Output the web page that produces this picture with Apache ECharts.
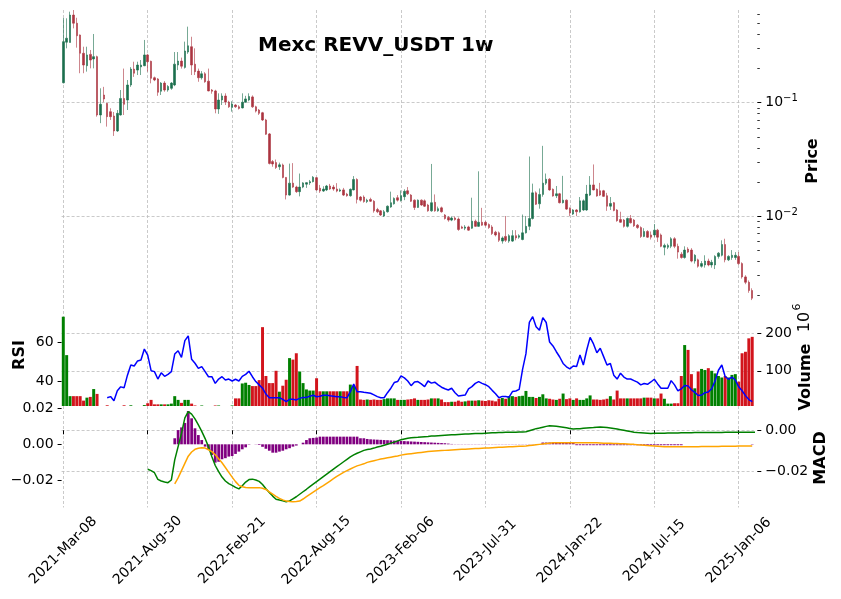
<!DOCTYPE html>
<html><head><meta charset="utf-8">
<script src="https://cdn.jsdelivr.net/npm/echarts@6/dist/echarts.min.js"></script>
<style>html,body{margin:0;padding:0;background:#fff}#c{width:841px;height:599px}</style>
</head><body><div id="c"></div>
<script>
// ---- data (weekly, from 2021-03-08) ----
const open = [.150,.342,.340,.594,.503,.396,.273,.212,.267,.243,.255,.0779,.1169,.0986,.0833,.0763,.0563,.0779,.109,.1056,.1433,.198,.194,.207,.212,.264,.232,.166,.162,.1262,.149,.1294,.134,.1433,.215,.233,.205,.28,.312,.219,.19,.166,.18,.155,.1294,.127,.088,.1056,.1146,.1014,.091,.0954,.092,.09,.101,.1056,.1125,.092,.0862,.0815,.0704,.053,.0302,.0296,.0272,.0282,.0219,.0153,.0195,.018,.0164,.018,.0191,.0196,.0201,.0218,.0176,.0166,.017,.0184,.018,.0173,.0166,.017,.0156,.0151,.017,.021,.0147,.0147,.0134,.014,.0135,.0114,.0111,.01,.0109,.012,.0128,.0145,.0137,.0148,.0167,.0153,.0138,.0119,.0138,.0136,.0125,.0111,.0132,.0111,.0118,.0102,.0097,.0092,.0096,.0094,.008,.0078,.008,.0078,.009,.0081,.0088,.0088,.0084,.008,.0072,.0071,.006,.0066,.006,.006,.0067,.0065,.0062,.0071,.0081,.0095,.016,.0128,.0155,.0195,.0211,.0172,.0151,.0157,.0131,.0138,.0117,.0104,.0113,.0109,.0113,.0113,.0153,.0188,.0172,.0167,.0167,.0151,.0122,.0131,.0113,.0093,.0092,.0081,.0095,.0092,.0083,.0079,.0066,.0073,.0068,.0068,.0075,.0068,.0053,.0053,.0054,.0063,.0054,.0046,.0043,.0051,.005,.004,.0041,.0036,.0037,.004,.0037,.0037,.0044,.0045,.0056,.0041,.0043,.0043,.0044,.0038,.0029,.0026,.0022];
const close = [.346,.371,.594,.503,.390,.273,.215,.264,.238,.255,.0779,.0968,.1078,.0753,.0753,.0563,.0806,.109,.0968,.1433,.198,.182,.215,.215,.264,.23,.164,.1586,.1236,.149,.1294,.139,.149,.219,.233,.21,.286,.318,.215,.188,.166,.18,.153,.127,.1262,.088,.1056,.1146,.1014,.092,.0975,.092,.089,.101,.108,.1135,.092,.0843,.0806,.0704,.0527,.0291,.0288,.0268,.0283,.0219,.0153,.0195,.018,.0164,.018,.0196,.0197,.0201,.022,.017,.0166,.0173,.0184,.0173,.0173,.0166,.017,.0153,.0151,.0172,.021,.014,.0138,.0134,.0138,.0135,.0111,.0109,.0102,.0109,.0122,.0131,.0143,.0138,.0151,.0165,.0157,.0135,.0119,.0138,.0125,.0122,.0111,.0131,.0111,.0116,.0109,.0095,.0092,.0096,.0093,.0076,.0078,.008,.0075,.009,.0081,.0088,.0083,.0083,.0079,.007,.0068,.0061,.0064,.0061,.0067,.0067,.0064,.0067,.0071,.0081,.0095,.016,.0127,.0155,.0195,.0211,.017,.015,.0157,.0131,.0138,.0115,.0106,.0113,.0109,.0136,.0136,.0156,.0188,.017,.015,.0153,.0149,.0122,.0129,.0112,.0091,.0088,.0081,.0095,.0087,.0082,.0079,.0066,.0073,.0065,.0065,.0075,.0065,.0054,.0055,.0055,.0063,.0054,.0048,.0043,.005,.0048,.004,.0045,.0036,.0038,.004,.0037,.0039,.0044,.0047,.0056,.0041,.0044,.0045,.0045,.0038,.0029,.0026,.0022,.00188];
const low = [.148,.302,.340,.453,.306,.182,.182,.188,.201,.201,.0753,.066,.101,.0615,.0704,.0509,.0552,.077,.0779,.0862,.138,.169,.1755,.1755,.21,.188,.1482,.155,.115,.1169,.125,.125,.13,.14,.194,.2,.2,.27,.1755,.1755,.153,.16,.15,.126,.12,.0806,.0797,.0954,.0954,.09,.0833,.09,.087,.089,.1,.103,.09,.082,.078,.069,.052,.0285,.0272,.026,.0255,.0215,.014,.0151,.0177,.016,.0149,.0176,.0177,.0188,.0198,.0167,.016,.0163,.0166,.017,.0167,.0162,.0163,.015,.0148,.0148,.0168,.0129,.0134,.0131,.013,.0133,.0107,.0106,.01,.0098,.0107,.0118,.0126,.0134,.0134,.0138,.0153,.0133,.0113,.0118,.0123,.012,.0109,.0109,.0109,.0109,.0107,.0093,.0089,.009,.0091,.0074,.0077,.0075,.0074,.0077,.008,.008,.0082,.0081,.0077,.0068,.0066,.0059,.0057,.0059,.0058,.0059,.0061,.0063,.0061,.007,.0075,.0093,.0125,.0116,.0148,.0188,.0167,.0148,.0144,.0129,.0129,.0113,.01,.0102,.01,.0107,.0111,.0111,.015,.0168,.0148,.015,.0147,.0111,.0113,.011,.0089,.0087,.0079,.0079,.0086,.008,.0077,.0064,.0065,.0064,.0062,.0065,.0059,.0053,.0045,.0051,.0052,.0052,.0042,.0042,.0042,.0047,.0039,.0038,.0035,.0035,.0035,.0036,.0035,.0034,.0042,.0044,.0039,.004,.0041,.0041,.0037,.0028,.0025,.0021,.00181];
const high = [.559,.556,.636,.658,.562,.40,.312,.312,.292,.404,.26,.134,.138,.1,.0893,.0828,.0862,.1294,.2,.1586,.206,.23,.23,.238,.358,.27,.235,.17,.165,.152,.155,.143,.152,.28,.28,.25,.346,.469,.382,.302,.2,.19,.186,.2,.132,.13,.121,.121,.121,.104,.103,.097,.095,.121,.115,.121,.116,.094,.088,.083,.072,.054,.0312,.0315,.0296,.029,.022,.029,.0293,.0185,.0237,.0199,.0199,.0208,.0225,.0221,.0188,.0183,.0188,.0192,.0188,.0195,.0175,.0177,.016,.0175,.0225,.0215,.015,.0152,.0142,.0145,.0138,.0118,.0113,.0113,.0124,.0164,.0146,.0153,.0168,.0172,.018,.0156,.014,.014,.014,.014,.0128,.0288,.0155,.0121,.0121,.0104,.01,.0099,.0099,.0097,.0082,.0083,.0082,.0145,.0093,.0248,.0118,.009,.0086,.0083,.0074,.0073,.0066,.01,.0069,.0075,.0075,.0069,.0103,.01,.0335,.0193,.0165,.0175,.0416,.0237,.0216,.0175,.0184,.016,.0226,.014,.0119,.0115,.0115,.0147,.014,.0188,.0225,.0285,.0175,.0196,.017,.016,.0147,.0133,.0115,.0109,.0094,.0097,.0102,.0094,.0085,.0081,.0078,.0075,.0073,.0085,.0077,.007,.0057,.0057,.0065,.0065,.0057,.0048,.0054,.0053,.0052,.0046,.0042,.004,.0045,.0042,.0041,.0045,.0048,.0061,.0063,.0045,.005,.0048,.0048,.0039,.003,.0027,.0023];
// volume in millions
const volume = [245,142,32,32,32,32,20,28,30,51,38,5,5,7.5,5,5,5,5,7.5,5,7.5,5,5,5,8,13,22,10,10,10,10,10,12,32,22,14,22,22,12,7,5,7,5,5,5,7,7,5,5,5,7,26,26,66,68,62,59,59,75,217,86,67,67,100,44,60,76,134,130,147,98,67,50,47,47,80,45,45,45,45,45,45,45,45,45,63,60,113,23,22,23,22,23,22,22,24,26,26,26,22,22,22,23,24,26,22,22,22,23,26,26,26,23,16,16,17,17,20,17,18,20,20,20,21,20,19,21,20,18,25,27,25,32,32,30,32,33,46,30,30,27,30,37,26,25,23,22,25,39,24,26,22,26,22,22,26,34,23,23,22,23,25,32,23,47,26,26,26,26,26,26,26,28,28,28,26,26,39,25,12,12,13,13,86,169,156,91,53,98,105,102,107,100,93,86,82,86,82,89,91,71,147,151,187,191];
const rsi = [null,null,null,null,null,null,null,null,null,null,null,null,null,31.4,32,29.9,35,37,36.5,43,48.2,47.7,50.3,50.8,56.4,53.3,45.3,44.8,41,44.2,42.4,43.4,44.8,53.8,55.5,52.1,60.7,63.1,51.1,49.1,46.5,47.4,44.8,42.2,42.2,38.8,41,42.2,40.5,41,40,40.9,40,42.4,43.4,45,42.2,39.7,38,36.3,33.3,31.4,31.4,31.4,31.4,30.6,29.4,30.6,30.6,30.3,31.1,31.6,31.6,32.2,32.7,31.9,32.2,32.7,32.7,32.4,32.2,31.9,31.9,31.6,31.4,34.5,38.5,34.5,34.5,34.2,34,33.7,32.9,32,31.4,31.4,34,36.3,39.2,39.7,42.6,41.6,40,37.6,39.5,39.7,38.5,37.1,40,38.9,39.4,38,36.8,36,35.4,36.3,34,32.3,32.6,32.8,36,37.1,38.8,39.7,38.8,38.1,37.1,35.2,33.5,31.4,32.1,32.1,31.7,34.6,34.9,35.7,46,54,70,73,67.8,66,72.5,70,60,58,55,52.3,49,47.3,46.2,47.7,47.4,53.3,48.2,55.9,62.4,59,54.5,56.8,52.5,48.2,49,43,41,44,42,41,41,40.2,39.4,38,38.7,38.3,39.5,40.9,38.5,36.3,36.3,36.3,40.2,38,35,36,37.7,37.5,35.5,34.2,32.6,32.8,34,34.4,36,40,45.5,48.2,42.2,40.9,42,40.5,37,35,32.5,30.5,29.4];
const macd = [null,null,null,null,null,null,null,null,null,null,null,null,null,null,null,null,null,null,null,null,null,null,null,null,null,-0.0188,-0.0195,-0.0205,-0.0237,-0.0245,-0.0250,-0.0253,-0.0240,-0.0143,-0.0079,-0.0015,0.0060,0.0090,0.0078,0.0055,0.0026,-0.0005,-0.0040,-0.0080,-0.0128,-0.0170,-0.0200,-0.0226,-0.0245,-0.0258,-0.0266,-0.0276,-0.0283,-0.0268,-0.0250,-0.0238,-0.0236,-0.0240,-0.0247,-0.0262,-0.0282,-0.0300,-0.0318,-0.0333,-0.0337,-0.0341,-0.0345,-0.0341,-0.0331,-0.0321,-0.0309,-0.0297,-0.0285,-0.0272,-0.0260,-0.0248,-0.0236,-0.0224,-0.0212,-0.0200,-0.0188,-0.0176,-0.0164,-0.0152,-0.0140,-0.0128,-0.0119,-0.0111,-0.0104,-0.0097,-0.0093,-0.0090,-0.0086,-0.0081,-0.0077,-0.0072,-0.0067,-0.0062,-0.0057,-0.0051,-0.0046,-0.0042,-0.0038,-0.0036,-0.0035,-0.0034,-0.0032,-0.0031,-0.0030,-0.0028,-0.0027,-0.0026,-0.0025,-0.0024,-0.0023,-0.0022,-0.0021,-0.0020,-0.0019,-0.0018,-0.0018,-0.0017,-0.0016,-0.0016,-0.0015,-0.0014,-0.0013,-0.0012,-0.0012,-0.0011,-0.0011,-0.0010,-0.0010,-0.0009,-0.0009,-0.0008,-0.0008,-0.0007,-0.0002,0.0003,0.0008,0.0011,0.0015,0.0019,0.0022,0.0021,0.0019,0.0017,0.0015,0.0012,0.0009,0.0006,0.0007,0.0008,0.0010,0.0011,0.0012,0.0013,0.0015,0.0016,0.0015,0.0013,0.0011,0.0009,0.0006,0.0003,0.0000,-0.0003,-0.0006,-0.0009,-0.0011,-0.0012,-0.0013,-0.0014,-0.0015,-0.0014,-0.0014,-0.0014,-0.0014,-0.0013,-0.0013,-0.0013,-0.0013,-0.0012,-0.0012,-0.0012,-0.0012,-0.0011,-0.0011,-0.0011,-0.0011,-0.0011,-0.0011,-0.0011,-0.0011,-0.0011,-0.0010,-0.0010,-0.0010,-0.0010,-0.0010,-0.0010,-0.0010,-0.0010,-0.0010,-0.0010];
const signal = [null,null,null,null,null,null,null,null,null,null,null,null,null,null,null,null,null,null,null,null,null,null,null,null,null,null,null,null,null,null,null,null,null,-0.0259,-0.0230,-0.0195,-0.0160,-0.0125,-0.0105,-0.0092,-0.0087,-0.0084,-0.0086,-0.0094,-0.0103,-0.0118,-0.0137,-0.0157,-0.0180,-0.0203,-0.0226,-0.0248,-0.0266,-0.0273,-0.0276,-0.0277,-0.0277,-0.0277,-0.0277,-0.0280,-0.0286,-0.0297,-0.0308,-0.0319,-0.0329,-0.0336,-0.0342,-0.0344,-0.0345,-0.0344,-0.0342,-0.0332,-0.0321,-0.0310,-0.0299,-0.0288,-0.0277,-0.0267,-0.0256,-0.0245,-0.0234,-0.0223,-0.0213,-0.0203,-0.0195,-0.0187,-0.0179,-0.0172,-0.0167,-0.0162,-0.0155,-0.0151,-0.0147,-0.0143,-0.0139,-0.0136,-0.0133,-0.0130,-0.0127,-0.0124,-0.0120,-0.0117,-0.0115,-0.0113,-0.0111,-0.0109,-0.0107,-0.0105,-0.0103,-0.0101,-0.0100,-0.0099,-0.0098,-0.0097,-0.0096,-0.0095,-0.0094,-0.0093,-0.0092,-0.0091,-0.0090,-0.0089,-0.0088,-0.0088,-0.0087,-0.0086,-0.0085,-0.0084,-0.0083,-0.0082,-0.0082,-0.0081,-0.0080,-0.0079,-0.0078,-0.0077,-0.0077,-0.0076,-0.0074,-0.0072,-0.0070,-0.0068,-0.0066,-0.0064,-0.0062,-0.0060,-0.0060,-0.0060,-0.0060,-0.0060,-0.0060,-0.0060,-0.0060,-0.0060,-0.0060,-0.0060,-0.0060,-0.0060,-0.0060,-0.0061,-0.0062,-0.0062,-0.0063,-0.0064,-0.0064,-0.0065,-0.0065,-0.0066,-0.0067,-0.0068,-0.0070,-0.0071,-0.0072,-0.0074,-0.0075,-0.0076,-0.0077,-0.0078,-0.0079,-0.0079,-0.0079,-0.0079,-0.0079,-0.0079,-0.0079,-0.0079,-0.0079,-0.0079,-0.0079,-0.0078,-0.0078,-0.0078,-0.0078,-0.0078,-0.0078,-0.0077,-0.0077,-0.0077,-0.0077,-0.0077,-0.0076,-0.0076,-0.0076,-0.0076,-0.0076];
const hist = [null,null,null,null,null,null,null,null,null,null,null,null,null,null,null,null,null,null,null,null,null,null,null,null,null,null,null,null,null,null,null,null,null,0.0034,0.0080,0.0095,0.0120,0.0187,0.0146,0.0090,0.0052,0.0024,-0.0013,-0.0032,-0.0060,-0.0103,-0.0098,-0.0084,-0.0078,-0.0069,-0.0066,-0.0054,-0.0041,-0.0028,-0.0017,-0.0002,0,0.0001,-0.0004,-0.0014,-0.0025,-0.0036,-0.0047,-0.0047,-0.0041,-0.0036,-0.0028,-0.0022,-0.0013,-0.0007,0,0.0009,0.0024,0.0034,0.0036,0.0038,0.0043,0.0043,0.0043,0.0043,0.0043,0.0043,0.0043,0.0043,0.0043,0.0043,0.0043,0.0043,0.0034,0.0034,0.0030,0.0028,0.0027,0.0026,0.0025,0.0024,0.0023,0.0022,0.0021,0.0020,0.0019,0.0018,0.0017,0.0016,0.0015,0.0014,0.0013,0.0012,0.0011,0.0010,0.0009,0.0008,0.0007,0.0006,0.0004,0.0002,0.0001,0.0001,0.0001,0.0001,0.0001,0.0001,0.0001,0.0001,0.0001,0.0001,0.0001,0.0001,0.0001,0.0001,0.0001,0.0001,0.0001,0.0001,0.0001,0.0001,0.0001,0.0001,0.0001,0.0001,0.0001,0.0001,0.0010,0.0010,0.0010,0.0010,0.0010,0.0010,0.0010,0.0010,0.0010,0.0010,-0.0005,-0.0005,-0.0005,-0.0005,-0.0005,-0.0005,-0.0005,-0.0005,-0.0005,-0.0005,-0.0005,-0.0005,-0.0005,-0.0005,-0.0005,-0.0005,-0.0005,-0.0005,-0.0005,-0.0005,-0.0005,-0.0005,-0.0005,-0.0005,-0.0005,-0.0005,-0.0005,-0.0005,-0.0005,-0.0005,-0.0005,-0.0005,0,0,0,0,0,0,0,0,0,0,0,0,0,0,0,0,0,0,0,0,-0.0002,-0.0002,-0.0002,-0.0002];
const priceTicks = [0.01, 0.1];
const priceMinorTicks = [0.002,0.003,0.004,0.005,0.006,0.007,0.008,0.009,0.02,0.03,0.04,0.05,0.06,0.07,0.08,0.09,0.2,0.3,0.4,0.5,0.6];
const volTicks = [100, 200];
const rsiTicks = [40, 60];
const macdTicks = [-0.02, 0];
const histTicks = [-0.02, 0, 0.02];
const tickEvery = 25;

// ---- build ----
const MON = ['Jan','Feb','Mar','Apr','May','Jun','Jul','Aug','Sep','Oct','Nov','Dec'];
const t0 = Date.UTC(2021, 2, 8);
const dates = open.map((_, i) => { const d = new Date(t0 + i * 7 * 864e5);
  return d.getUTCFullYear() + '-' + MON[d.getUTCMonth()] + '-' + String(d.getUTCDate()).padStart(2, '0'); });
const ohlc = open.map((o, i) => [o, close[i], low[i], high[i]]);
const UP = '#1b6f4d', DN = '#ab3440', VUP = '#008000', VDN = '#d2141c';
const volData = volume.map((v, i) => ({ value: v, itemStyle: { color: close[i] >= open[i] ? VUP : VDN } }));

const FONT = 'DejaVu Sans';
const tickInt = (i) => i % tickEvery === 0;
const GL = 61.6, GW = 692.3;
const grid = [
  { left: GL, width: GW, top: 10, height: 296 },
  { left: GL, width: GW, top: 306, height: 100 },
  { left: GL, width: GW, top: 406, height: 101.5 }
];
function xAx(gi, show) {
  return { type: 'category', gridIndex: gi, data: dates, boundaryGap: true,
    axisLine: { show: false },
    axisTick: { show: show, interval: tickInt, alignWithLabel: true, length: 4, lineStyle: { color: '#000', width: 1 } },
    axisLabel: { show: show, interval: tickInt, rotate: 45, align: 'center', verticalAlign: 'middle', margin: 43,
      fontFamily: FONT, fontSize: 14, color: '#000' },
    splitLine: { show: true, interval: tickInt, alignWithLabel: true, lineStyle: { color: '#bdbdbd', type: [3, 2], width: 0.8 } } };
}
const gridLine = { show: true, lineStyle: { color: '#bdbdbd', type: [3, 2], width: 0.8 } };
const tickStyle = { show: true, length: 4, lineStyle: { color: '#000', width: 1 } };
const lab = (extra) => Object.assign({ fontFamily: FONT, fontSize: 14, color: '#000', margin: 8 }, extra);
const fmt2 = (v) => (v < -1e-9 ? '\u2212' : '') + Math.abs(v).toFixed(2);

const option = {
  animation: false,
  backgroundColor: '#fff',
  grid: grid,
  xAxis: [xAx(0, false), xAx(1, false), xAx(2, true)],
  yAxis: [
    { type: 'log', logBase: 10, gridIndex: 0, position: 'right', offset: 3.4, min: 0.001605, max: 0.658,
      axisLine: { show: false }, axisTick: Object.assign({ customValues: priceTicks }, tickStyle),
      axisLabel: lab({ customValues: priceTicks,
        formatter: (v) => { const e = Math.round(Math.log10(v)); return '{b|10}{s|' + (e < 0 ? '\u2212' : '') + Math.abs(e) + '}'; },
        rich: { b: { fontFamily: FONT, fontSize: 14, color: '#000', lineHeight: 18 },
                s: { fontFamily: FONT, fontSize: 10, color: '#000', verticalAlign: 'top', lineHeight: 10 } } }),
      splitLine: gridLine },
    { type: 'log', logBase: 10, gridIndex: 0, position: 'right', offset: 3.4, min: 0.001605, max: 0.658,
      axisLine: { show: false }, axisTick: { show: true, length: 2.5, customValues: priceMinorTicks, lineStyle: { color: '#000', width: 0.8 } },
      axisLabel: { show: false }, splitLine: { show: false } },
    { type: 'value', gridIndex: 1, position: 'right', offset: 3.4, min: 5.6, max: 273.7,
      axisLine: { show: false }, axisTick: Object.assign({ customValues: volTicks }, tickStyle),
      axisLabel: lab({ customValues: volTicks }), splitLine: gridLine },
    { type: 'value', gridIndex: 1, position: 'left', offset: 0, min: 27.18, max: 78.46,
      axisLine: { show: false }, axisTick: Object.assign({ customValues: rsiTicks }, tickStyle),
      axisLabel: lab({ customValues: rsiTicks }), splitLine: { show: false } },
    { type: 'value', gridIndex: 2, position: 'right', offset: 3.4, min: -0.0373, max: 0.01174,
      axisLine: { show: false }, axisTick: Object.assign({ customValues: macdTicks }, tickStyle),
      axisLabel: lab({ customValues: macdTicks, formatter: fmt2 }), splitLine: gridLine },
    { type: 'value', gridIndex: 2, position: 'left', offset: 0, min: -0.0355, max: 0.02152,
      axisLine: { show: false }, axisTick: Object.assign({ customValues: histTicks }, tickStyle),
      axisLabel: lab({ customValues: histTicks, formatter: fmt2 }), splitLine: { show: false } }
  ],
  series: [
    { type: 'candlestick', xAxisIndex: 0, yAxisIndex: 0, data: ohlc, barWidth: 2.0,
      itemStyle: { color: UP, color0: DN, borderColor: UP, borderColor0: DN, borderWidth: 0.6 } },
    { type: 'bar', xAxisIndex: 1, yAxisIndex: 2, data: volData, barWidth: '88%', z: 2 },
    { type: 'line', xAxisIndex: 1, yAxisIndex: 3, data: rsi, showSymbol: false, symbol: 'none',
      lineStyle: { color: '#0000ff', width: 1.5 }, z: 3 },
    { type: 'bar', xAxisIndex: 2, yAxisIndex: 5, data: hist, barWidth: '80%', itemStyle: { color: '#800080' }, z: 2 },
    { type: 'line', xAxisIndex: 2, yAxisIndex: 4, data: macd, showSymbol: false, symbol: 'none',
      lineStyle: { color: '#008000', width: 1.5 }, z: 3 },
    { type: 'line', xAxisIndex: 2, yAxisIndex: 4, data: signal, showSymbol: false, symbol: 'none',
      lineStyle: { color: '#ffa500', width: 1.5 }, z: 3 }
  ],
  graphic: [
    { type: 'text', left: 258, top: 36, style: { text: 'Mexc REVV_USDT 1w', font: 'bold 20px "DejaVu Sans"', fill: '#000' } },
    { type: 'text', x: 813, y: 161, rotation: Math.PI / 2,
      style: { text: 'Price', font: 'bold 16px "DejaVu Sans"', fill: '#000', textAlign: 'center', textVerticalAlign: 'middle' } },
    { type: 'text', x: 20, y: 355, rotation: Math.PI / 2,
      style: { text: 'RSI', font: 'bold 16px "DejaVu Sans"', fill: '#000', textAlign: 'center', textVerticalAlign: 'middle' } },
    { type: 'text', x: 806, y: 377, rotation: Math.PI / 2,
      style: { text: 'Volume', font: 'bold 16px "DejaVu Sans"', fill: '#000', textAlign: 'center', textVerticalAlign: 'middle' } },
    { type: 'text', x: 805, y: 322, rotation: Math.PI / 2,
      style: { text: '10', font: '16px "DejaVu Sans"', fill: '#000', textAlign: 'center', textVerticalAlign: 'middle' } },
    { type: 'text', x: 797, y: 307, rotation: Math.PI / 2,
      style: { text: '6', font: '11px "DejaVu Sans"', fill: '#000', textAlign: 'center', textVerticalAlign: 'middle' } },
    { type: 'text', x: 821, y: 458, rotation: Math.PI / 2,
      style: { text: 'MACD', font: 'bold 16px "DejaVu Sans"', fill: '#000', textAlign: 'center', textVerticalAlign: 'middle' } }
  ]
};
const chart = echarts.init(document.getElementById('c'), null, { renderer: 'canvas' });
chart.setOption(option);
</script></body></html>
